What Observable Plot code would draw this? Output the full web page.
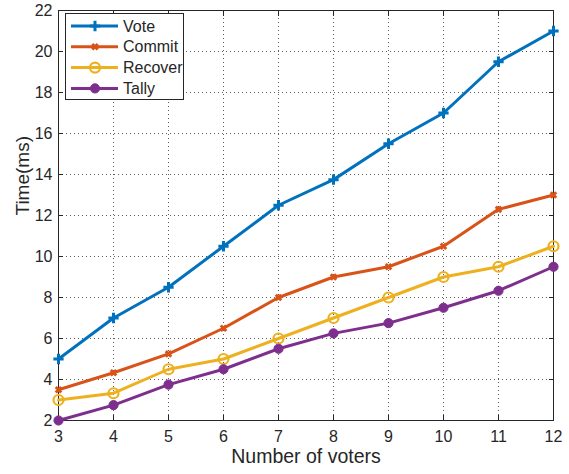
<!DOCTYPE html>
<html><head><meta charset="utf-8">
<script src="https://cdn.jsdelivr.net/npm/d3@7"></script>
<script src="https://cdn.jsdelivr.net/npm/@observablehq/plot@0.6"></script>
<style>body{margin:0;background:#fff;font-family:"Liberation Sans",Arial,sans-serif}</style>
</head><body><div id="chart"></div>
<script>
const voters = [3,4,5,6,7,8,9,10,11,12];
const vote    = [5,7,8.5,10.5,12.5,13.75,15.5,17,19.5,21];
const commit  = [3.5,4.33,5.25,6.5,8,9,9.5,10.5,12.3,13];
const recover = [3,3.33,4.5,5,6,7,8,9,9.5,10.5];
const tally   = [2,2.75,3.75,4.5,5.5,6.25,6.75,7.5,8.33,9.5];
const seriesNames = ["Vote","Commit","Recover","Tally"];
const seriesValues = [vote, commit, recover, tally];
const colors = ["#0072BD","#D95319","#EDB120","#7E2F8E"];
const symbols = ["plus","times","circle","circle"];
const xTicks = [3,4,5,6,7,8,9,10,11,12];
const yTicks = [2,4,6,8,10,12,14,16,18,20,22];

const rows = seriesNames.flatMap((s,i)=>voters.map((v,j)=>({series:s, x:v, y:seriesValues[i][j]})));
const symR = [3.4, 2.6, 5, 4.6];
const symW = [3, 3, 2.2, 1];
const symFill = ["none","none","none",colors[3]];

const marks = [
  Plot.gridX(xTicks,{stroke:"#262626",strokeOpacity:0.75,strokeDasharray:"1,3"}),
  Plot.gridY(yTicks,{stroke:"#262626",strokeOpacity:0.75,strokeDasharray:"1,3"}),
  Plot.axisX(xTicks,{anchor:"bottom",tickSize:0,tickPadding:10,fontSize:16,label:null,color:"#262626"}),
  Plot.axisY(yTicks,{anchor:"left",tickSize:0,tickPadding:6,fontSize:16,label:null,color:"#262626"}),
  Plot.axisX(xTicks,{anchor:"bottom",tickSize:-5,tickFormat:()=>"",label:null,stroke:"#262626"}),
  Plot.axisX(xTicks,{anchor:"top",tickSize:-5,tickFormat:()=>"",label:null,stroke:"#262626"}),
  Plot.axisY(yTicks,{anchor:"left",tickSize:-5,tickFormat:()=>"",label:null,stroke:"#262626"}),
  Plot.axisY(yTicks,{anchor:"right",tickSize:-5,tickFormat:()=>"",label:null,stroke:"#262626"}),
  Plot.frame({stroke:"#262626"}),
  Plot.text(["Number of voters"],{frameAnchor:"bottom",dy:42,fontSize:19.5,fill:"#262626"}),
  Plot.text(["Time(ms)"],{frameAnchor:"left",dx:-36,rotate:-90,fontSize:19,fill:"#262626"})
];
seriesNames.forEach((s,i)=>{
  const d = rows.filter(r=>r.series===s);
  marks.push(Plot.line(d,{x:"x",y:"y",stroke:colors[i],strokeWidth:3}));
  marks.push(Plot.dot(d,{x:"x",y:"y",symbol:()=>symbols[i],stroke:colors[i],fill:symFill[i],strokeWidth:symW[i],r:symR[i]}));
});

const chart = Plot.plot({
  width:569,height:474,
  marginLeft:58,marginRight:16,marginTop:10,marginBottom:54,
  style:{fontFamily:"'Liberation Sans',Arial,sans-serif",background:"#fff"},
  x:{domain:[3,12]},
  y:{domain:[2,22]},
  symbol:{type:"identity"},
  marks
});
document.getElementById("chart").appendChild(chart);

// legend
const svg = d3.select(chart);
const lg = svg.append("g").attr("text-anchor","start");
lg.append("rect").attr("x",65.5).attr("y",13.5).attr("width",118).attr("height",86).attr("fill","#fff").attr("stroke","#262626");
const symMap = {plus:d3.symbolPlus,times:d3.symbolTimes,circle:d3.symbolCircle};
seriesNames.forEach((s,i)=>{
  const cy = 26 + i*20.8;
  const g = lg.append("g");
  g.append("line").attr("x1",71).attr("x2",118).attr("y1",cy).attr("y2",cy).attr("stroke",colors[i]).attr("stroke-width",3);
  g.append("path").attr("d",d3.symbol(symMap[symbols[i]], Math.PI*symR[i]*symR[i])())
    .attr("transform",`translate(95,${cy})`)
    .attr("stroke",colors[i]).attr("stroke-width",symW[i])
    .attr("fill", symFill[i]);
  g.append("text").attr("x",123).attr("y",cy).attr("dy","0.35em").attr("font-size",16).attr("fill","#262626").attr("text-anchor","start").text(s);
});
</script></body></html>
